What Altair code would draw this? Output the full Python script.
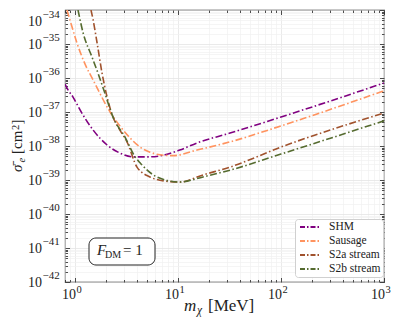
import altair as alt
import pandas as pd

# ---------------- data ----------------
series_names = ["SHM", "Sausage", "S2a stream", "S2b stream"]
series_colors = ["#800080", "#ff935f", "#a0522d", "#556b2f"]

shm_mass = [0.80, 0.855, 0.957, 1.12, 1.50, 2.05, 2.73, 3.66, 5.35, 7.5, 10.4, 15.3, 32, 100, 1000]
shm_sigma = [6.6e-37, 4.5e-37, 2.75e-37, 1.15e-37, 2.95e-38, 1.07e-38, 6.2e-39, 4.8e-39,
             4.8e-39, 5.5e-39, 7.6e-39, 1.23e-38, 2.4e-38, 7.1e-38, 7.1e-37]

sausage_mass = [0.836, 0.935, 1.045, 1.25, 1.50, 1.64, 2.19, 2.73, 3.42, 4.28, 5.35, 6.7, 8.9,
                15.3, 32, 100, 1000]
sausage_sigma = [1e-34, 3.2e-35, 1.07e-35, 2.6e-36, 8.7e-37, 5.1e-37, 1.0e-37, 3.9e-38, 1.74e-38,
                 9.3e-39, 6.6e-39, 5.5e-39, 5.2e-39, 7.6e-39, 1.32e-38, 3.9e-38, 4.2e-37]

s2a_mass = [1.43, 1.50, 1.64, 1.83, 2.05, 2.34, 2.73, 3.2, 4.0, 5.35, 7.5, 10.4, 17.5, 32, 100, 1000]
s2a_sigma = [1e-34, 5.1e-35, 1.07e-35, 1.41e-36, 2.75e-37, 7.1e-38, 2.95e-38, 1.32e-38, 2.4e-39,
             1.23e-39, 9.3e-40, 8.7e-40, 1.41e-39, 2.4e-39, 9.3e-39, 9.3e-38]

s2b_mass = [1.07, 1.2, 1.46, 1.67, 1.95, 2.34, 3.06, 3.83, 4.28, 6.25, 10.4, 17.5, 32, 100, 1000]
s2b_sigma = [1e-34, 2.1e-35, 4.2e-36, 1.41e-36, 3.6e-37, 7.1e-38, 1.82e-38, 4.8e-39, 3.2e-39,
             1.23e-39, 8.7e-40, 1.23e-39, 1.95e-39, 5.8e-39, 5.5e-38]

x_domain = [0.8, 1000]
y_domain = [1e-42, 1e-34]
x_major = [1, 10, 100, 1000]
x_exponents = ["0", "1", "2", "3"]
y_major = [1e-42, 1e-41, 1e-40, 1e-39, 1e-38, 1e-37, 1e-36, 1e-35, 1e-34]
y_exponents = ["−42", "−41", "−40", "−39", "−38", "−37", "−36", "−35", "−34"]
x_minor = [k * 10.0 ** e for e in range(-1, 3) for k in range(2, 10)
           if x_domain[0] <= k * 10.0 ** e <= x_domain[1]]
y_minor = [k * 10.0 ** e for e in range(-42, -34) for k in range(2, 10)]

annotation_parts = ["F", "DM", "= 1"]
x_title_parts = ["m", "χ", "[MeV]"]
y_title_parts = ["σ̄", "e", "[cm", "2", "]"]

# ---------------- tables ----------------
rows = []
for name, ms, ss in [("SHM", shm_mass, shm_sigma), ("Sausage", sausage_mass, sausage_sigma),
                     ("S2a stream", s2a_mass, s2a_sigma), ("S2b stream", s2b_mass, s2b_sigma)]:
    for i, (m, s) in enumerate(zip(ms, ss)):
        rows.append({"series": name, "mass": m, "sigma": s, "order": i})
df = pd.DataFrame(rows)
x_lab = pd.DataFrame({"v": x_major, "base": ["10"] * len(x_major), "exp": x_exponents})
y_lab = pd.DataFrame({"v": y_major, "base": ["10"] * len(y_major), "exp": y_exponents})

FONT = "Liberation Serif"
INK = "#222222"
xs = alt.Scale(type="log", domain=x_domain, nice=False)
ys = alt.Scale(type="log", domain=y_domain, nice=False)
W, H = 319, 272

x_main = alt.Axis(values=x_major, orient="bottom", ticks=False, labels=False, domain=False,
                  grid=True, gridColor="#e4e4e4", gridWidth=0.8, title=None)
y_main = alt.Axis(values=y_major, orient="left", ticks=False, labels=False, domain=False,
                  grid=True, gridColor="#e4e4e4", gridWidth=0.8, title=None)

lines = alt.Chart(df).mark_line(strokeWidth=1.6, strokeDash=[7, 2.5, 1.5, 2.5], clip=True,
                                interpolate="monotone").encode(
    x=alt.X("mass:Q", scale=xs, axis=x_main),
    y=alt.Y("sigma:Q", scale=ys, axis=y_main),
    color=alt.Color("series:N", scale=alt.Scale(domain=series_names, range=series_colors),
                    legend=alt.Legend(orient="none", legendX=230, legendY=209, title=None,
                                      labelFont=FONT, labelFontSize=11.5, labelColor=INK,
                                      symbolType="M-2,0H2", symbolSize=100,
                                      symbolDash=[5, 2, 1.5, 2], symbolStrokeWidth=1.8,
                                      symbolFillColor="transparent",
                                      symbolOffset=7, labelOffset=13,
                                      strokeColor="#d0d0d0", fillColor="white", padding=2,
                                      cornerRadius=3, rowPadding=2)),
    order="order:Q",
)


def ax_layer(xaxis, yaxis):
    return alt.Chart(df).mark_point(opacity=0).encode(
        x=alt.X("mass:Q", scale=xs, axis=xaxis),
        y=alt.Y("sigma:Q", scale=ys, axis=yaxis),
    )


def tick_axis(values, orient, size):
    return alt.Axis(values=values, orient=orient, offset=-size, tickSize=size, labels=False,
                    domain=False, grid=False, title=None, tickColor=INK, tickWidth=0.8)


minor_grid = ax_layer(
    alt.Axis(values=x_minor, orient="top", ticks=False, labels=False, domain=False, grid=True,
             gridColor="#f1f1f1", gridWidth=0.7, title=None),
    alt.Axis(values=y_minor, orient="right", ticks=False, labels=False, domain=False, grid=True,
             gridColor="#f1f1f1", gridWidth=0.7, title=None),
)
ticks_bl_major = ax_layer(tick_axis(x_major, "bottom", 4.5), tick_axis(y_major, "left", 4.5))
ticks_bl_minor = ax_layer(tick_axis(x_minor, "bottom", 2.5), tick_axis(y_minor, "left", 2.5))
ticks_tr_major = ax_layer(tick_axis(x_major, "top", 4.5), tick_axis(y_major, "right", 4.5))
ticks_tr_minor = ax_layer(tick_axis(x_minor, "top", 2.5), tick_axis(y_minor, "right", 2.5))

# ---------------- tick labels (10 + raised exponent) ----------------
xl_base = alt.Chart(x_lab).mark_text(font=FONT, fontSize=14, align="right", baseline="alphabetic",
                                     dx=1, color=INK).encode(
    x=alt.X("v:Q", scale=xs, axis=None), y=alt.value(H + 16.5), text="base:N")
xl_exp = alt.Chart(x_lab).mark_text(font=FONT, fontSize=10.5, align="left", baseline="alphabetic",
                                    dx=1.5, color=INK).encode(
    x=alt.X("v:Q", scale=xs, axis=None), y=alt.value(H + 10.5), text="exp:N")


def y_label_layers(flt, shift):
    b = alt.Chart(y_lab).transform_filter(flt).mark_text(
        font=FONT, fontSize=14, align="right", baseline="alphabetic", dy=5 + shift,
        color=INK).encode(y=alt.Y("v:Q", scale=ys, axis=None), x=alt.value(-23), text="base:N")
    e = alt.Chart(y_lab).transform_filter(flt).mark_text(
        font=FONT, fontSize=11, align="left", baseline="alphabetic", dy=-3 + shift,
        color=INK).encode(y=alt.Y("v:Q", scale=ys, axis=None), x=alt.value(-22.5), text="exp:N")
    return [b, e]


yl_layers = y_label_layers("datum.v < 5e-35", 0) + y_label_layers("datum.v > 5e-35", 10.5)


# ---------------- axis titles ----------------
def piece(text, x, y, size, italic=False, angle=0):
    kw = dict(font=FONT, fontSize=size, align="left", baseline="alphabetic", color=INK)
    if italic:
        kw["fontStyle"] = "italic"
    if angle:
        kw["angle"] = angle
    return alt.Chart(pd.DataFrame({"t": [text]})).mark_text(**kw).encode(
        x=alt.value(x), y=alt.value(y), text="t:N")


x_title = [
    piece(x_title_parts[0], 119, 301, 17, italic=True),
    piece(x_title_parts[1], 132, 304, 11.5, italic=True),
    piece(x_title_parts[2], 143, 301, 17),
]
y_title = [
    piece(y_title_parts[0], -43, 162, 15, italic=True, angle=270),
    piece(y_title_parts[1], -40, 152.5, 10.5, italic=True, angle=270),
    piece(y_title_parts[2], -43, 144, 15, angle=270),
    piece(y_title_parts[3], -46.5, 120, 10.5, angle=270),
    piece(y_title_parts[4], -43, 114.5, 15, angle=270),
]

# ---------------- F_DM = 1 annotation ----------------
box = alt.Chart(pd.DataFrame({"k": [0]})).mark_rect(
    fill="white", stroke=INK, strokeWidth=1, cornerRadius=7).encode(
    x=alt.value(24), x2=alt.value(90), y=alt.value(228), y2=alt.value(255))
annot = [
    piece(annotation_parts[0], 32, 245, 15, italic=True),
    piece(annotation_parts[1], 40, 248, 10),
    piece(annotation_parts[2], 58, 245, 15),
]

chart = alt.layer(
    minor_grid, ticks_bl_major, ticks_bl_minor, ticks_tr_major, ticks_tr_minor,
    lines, box, *annot, xl_base, xl_exp, *yl_layers, *x_title, *y_title,
).resolve_axis(x="independent", y="independent").properties(
    width=W, height=H,
    autosize=alt.AutoSizeParams(type="none"),
    padding={"left": 57, "top": 2, "right": 7, "bottom": 35},
).configure_view(stroke=INK, strokeWidth=1.1)

chart.save("out.html", embed_options={"renderer": "svg", "actions": False})
